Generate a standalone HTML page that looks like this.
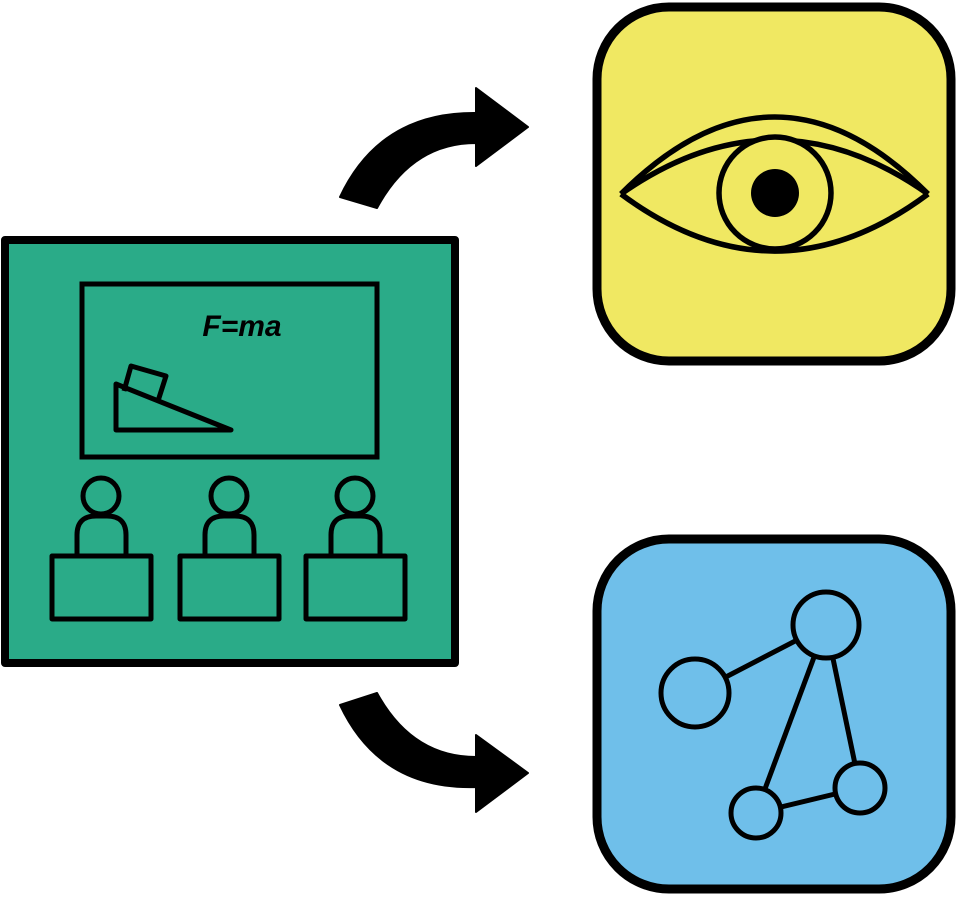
<!DOCTYPE html>
<html><head><style>html,body{margin:0;padding:0;background:#fff;}svg{display:block}</style></head>
<body>
<svg width="958" height="899" viewBox="0 0 958 899" xmlns="http://www.w3.org/2000/svg">
<!-- arrows -->
<path d="M340,197 Q380,112 476,113 L476,88 L528,127 L476,166 L476,143 Q412,143 377,208 Z" fill="#000" stroke="#000" stroke-width="2" stroke-linejoin="round"/>
<path d="M340,705 Q380,790 476,787 L476,812 L528,773 L476,735 L476,757 Q412,757 377,693 Z" fill="#000" stroke="#000" stroke-width="2" stroke-linejoin="round"/>
<!-- green classroom -->
<rect x="5" y="240" width="450" height="423" fill="#2aab88" stroke="#000" stroke-width="8" stroke-linejoin="round"/>
<rect x="82" y="284" width="295" height="173" fill="none" stroke="#000" stroke-width="5"/>
<text x="242" y="336" text-anchor="middle" font-family="Liberation Sans, sans-serif" font-style="italic" font-weight="bold" font-size="30">F=ma</text>
<path d="M116,384 L116,430 L231,430 Z" fill="none" stroke="#000" stroke-width="5" stroke-linejoin="round"/>
<path d="M124,391 L131,366 L166,376 L158,401" fill="none" stroke="#000" stroke-width="5" stroke-linejoin="round"/>
<g fill="none" stroke="#000" stroke-width="5" stroke-linejoin="round">
<g>
<circle cx="101" cy="496" r="18"/>
<path d="M77,556 L77,535 Q77,516 96,516 L107,516 Q126,516 126,535 L126,556"/>
<rect x="52" y="556" width="99" height="63"/>
</g>
<g transform="translate(128,0)">
<circle cx="101" cy="496" r="18"/>
<path d="M77,556 L77,535 Q77,516 96,516 L107,516 Q126,516 126,535 L126,556"/>
<rect x="52" y="556" width="99" height="63"/>
</g>
<g transform="translate(254,0)">
<circle cx="101" cy="496" r="18"/>
<path d="M77,556 L77,535 Q77,516 96,516 L107,516 Q126,516 126,535 L126,556"/>
<rect x="52" y="556" width="99" height="63"/>
</g>
</g>
<!-- yellow eye -->
<rect x="597" y="7" width="354" height="354" rx="72" fill="#f0e862" stroke="#000" stroke-width="9"/>
<g fill="none" stroke="#000" stroke-width="5.5" stroke-linejoin="round">
<path d="M621,194 Q775,40 928,194"/>
<path d="M621,194 Q775,86 928,194"/>
<path d="M621,194 Q775,308 928,194"/>
<circle cx="775" cy="193" r="56" fill="#f0e862"/>
</g>
<circle cx="775" cy="193" r="24" fill="#000"/>
<!-- blue graph -->
<rect x="597" y="539" width="354" height="350" rx="72" fill="#6fbfea" stroke="#000" stroke-width="9"/>
<g stroke="#000" stroke-width="5" fill="#6fbfea">
<line x1="695" y1="693" x2="826" y2="625"/>
<line x1="826" y1="625" x2="756" y2="813"/>
<line x1="826" y1="625" x2="860" y2="788"/>
<line x1="756" y1="813" x2="860" y2="788"/>
<circle cx="826" cy="625" r="33"/>
<circle cx="695" cy="693" r="34"/>
<circle cx="860" cy="788" r="25"/>
<circle cx="756" cy="813" r="25"/>
</g>
</svg>
</body></html>
